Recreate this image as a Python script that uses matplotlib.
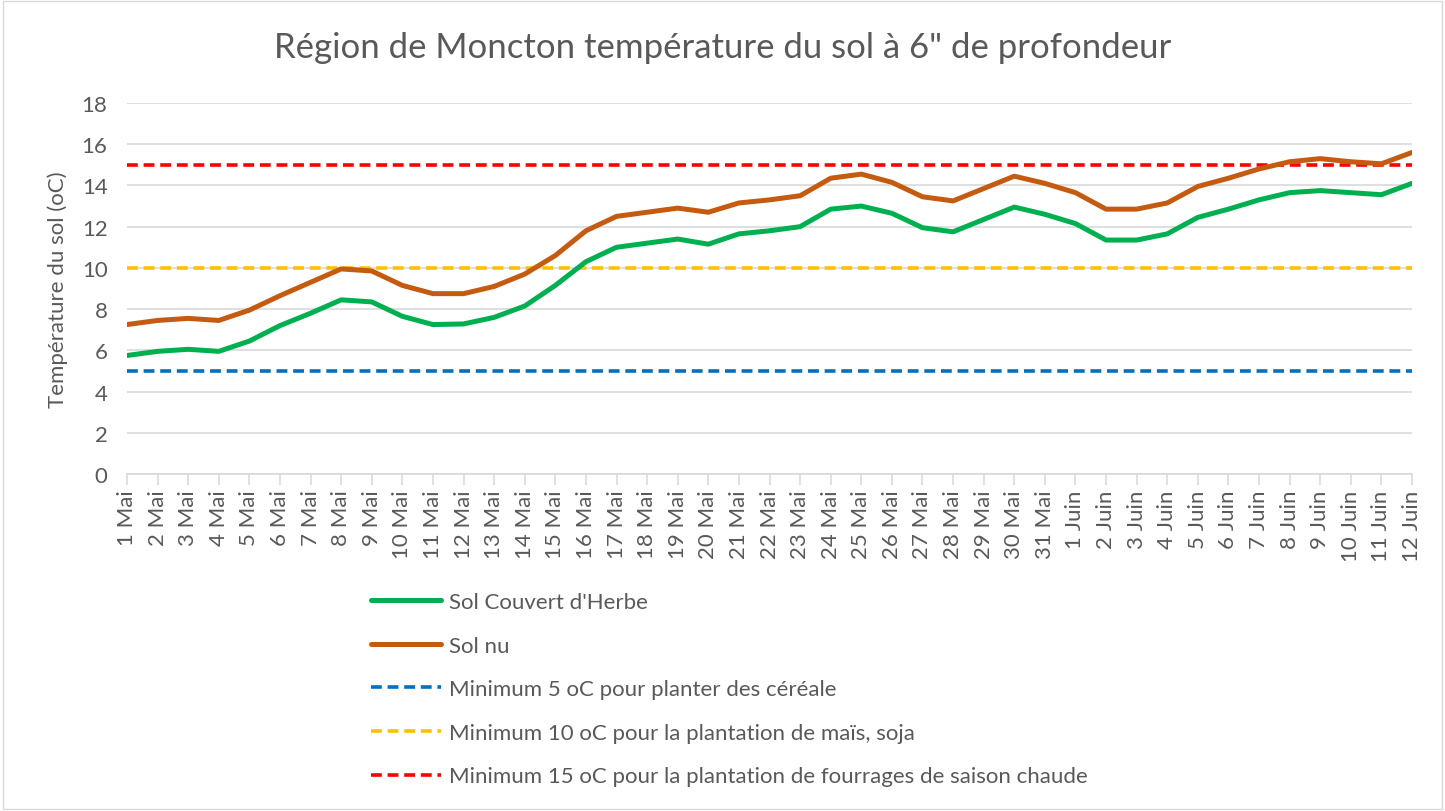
import numpy as np
import matplotlib.pyplot as plt
from matplotlib.patches import Rectangle

# ---------- data ----------
days = [f"{d} Mai" for d in range(1, 32)] + [f"{d} Juin" for d in range(1, 13)]

herbe = [5.75, 5.95, 6.05, 5.95, 6.45, 7.2, 7.8, 8.45, 8.35, 7.65,
         7.25, 7.28, 7.6, 8.15, 9.15, 10.3, 11.0, 11.2, 11.4, 11.15,
         11.65, 11.8, 12.0, 12.85, 13.0, 12.65, 11.95, 11.75, 12.35, 12.95,
         12.6, 12.15, 11.35, 11.35, 11.65, 12.45, 12.85, 13.3, 13.65, 13.75,
         13.65, 13.55, 14.1]

nu = [7.25, 7.45, 7.55, 7.45, 7.95, 8.65, 9.3, 9.95, 9.85, 9.15,
      8.75, 8.75, 9.1, 9.7, 10.6, 11.8, 12.5, 12.7, 12.9, 12.7,
      13.15, 13.3, 13.5, 14.35, 14.55, 14.15, 13.45, 13.25, 13.85, 14.45,
      14.1, 13.65, 12.85, 12.85, 13.15, 13.95, 14.35, 14.8, 15.15, 15.3,
      15.15, 15.05, 15.6]

seuils = [5, 10, 15]
seuil_labels = ["Minimum 5 oC pour planter des céréale",
                "Minimum 10 oC pour la plantation de maïs, soja",
                "Minimum 15 oC pour la plantation de fourrages de saison chaude"]
seuil_colors = ["#0070C0", "#FFC000", "#FF0000"]

plt.rcParams['font.family'] = ['Lato', 'DejaVu Sans']
GREY = "#595959"
FS = 16

fig = plt.figure(figsize=(14.45, 8.12), dpi=100)
ax = fig.add_axes([127 / 1445, 1 - 475 / 812, (1412 - 127) / 1445, (475 - 104) / 812])

x = np.arange(len(days))
ax.plot(x, herbe, color="#00B050", lw=3.6, solid_capstyle="round",
        solid_joinstyle="round", label="Sol Couvert d'Herbe", zorder=3)
ax.plot(x, nu, color="#C55A11", lw=3.6, solid_capstyle="round",
        solid_joinstyle="round", label="Sol nu", zorder=3)
for val, lbl, col in zip(seuils, seuil_labels, seuil_colors):
    ax.plot(x, [val] * len(x), color=col, lw=2.6, dashes=(3, 1.6),
            label=lbl, zorder=2)

ax.set_xlim(0, len(days) - 1)
ax.set_ylim(0, 18)
ax.set_yticks(range(0, 19, 2))
ax.set_xticks(x)
ax.set_xticklabels(days, rotation=90, fontsize=FS, color=GREY)
ax.tick_params(axis="y", length=0, labelsize=FS, labelcolor=GREY, pad=14)
ax.tick_params(axis="x", length=8, color="#D9D9D9", width=1.2, pad=3)
ax.grid(axis="y", color="#D9D9D9", lw=1.2)
ax.set_axisbelow(True)
for s in ["top", "right", "left"]:
    ax.spines[s].set_visible(False)
ax.spines["bottom"].set_color("#D9D9D9")
ax.spines["bottom"].set_linewidth(1.2)

ax.set_ylabel("Température du sol (oC)", fontsize=FS, color=GREY, labelpad=10)
fig.text(0.5, 1 - 48 / 812, "Région de Moncton température du sol à 6\" de profondeur",
         ha="center", va="center", fontsize=25, color=GREY)

handles, labels = ax.get_legend_handles_labels()
fig.legend(handles, labels, loc="upper left", bbox_to_anchor=(360 / 1445, 1 - 582 / 812),
           frameon=False, fontsize=FS, labelcolor=GREY, handlelength=3.15,
           handletextpad=0.36, labelspacing=1.06, borderpad=0)

fig.add_artist(Rectangle((0.002, 0.002), 0.996, 0.996, transform=fig.transFigure,
                         fill=False, edgecolor="#D9D9D9", lw=1))

fig.savefig("out.png", dpi=100)
